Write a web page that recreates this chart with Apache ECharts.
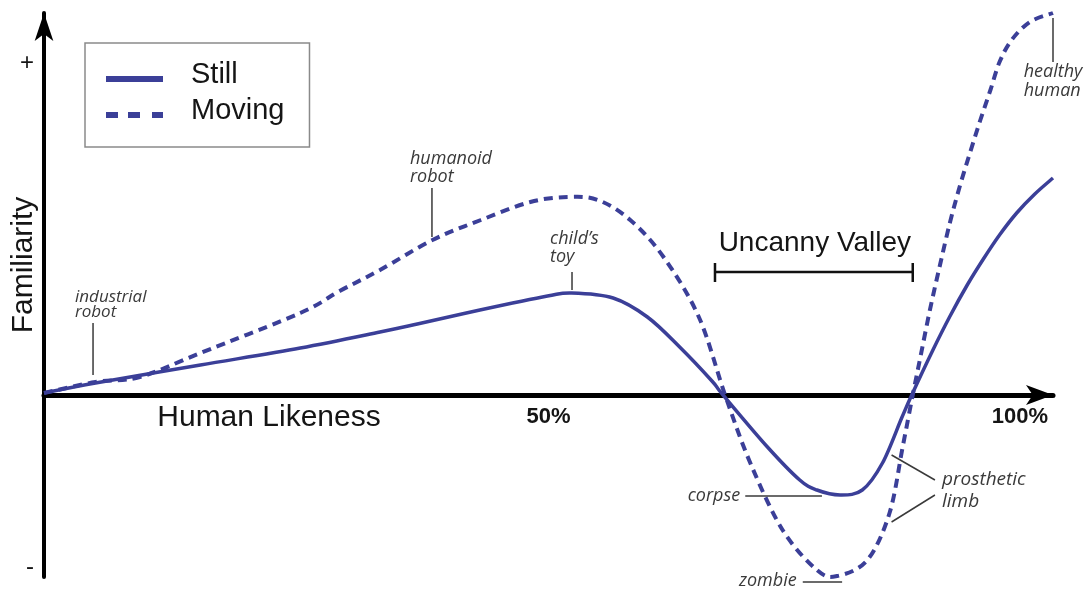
<!DOCTYPE html>
<html>
<head>
<meta charset="utf-8">
<script src="https://cdn.jsdelivr.net/npm/echarts@6/dist/echarts.min.js"></script>
<style>
html,body{margin:0;padding:0;background:#ffffff;}
#chart{width:1090px;height:592px;}
</style>
</head>
<body>
<div id="chart"></div>
<script>
// ---- data (x: human likeness %, y: familiarity, arbitrary units) ----
const stillX = [0, 5.1, 15.5, 25.4, 33.3, 37.0, 43.2, 49.9, 52.3, 56.4, 59.8, 63.0, 66.2, 67.3, 71.7, 74.9, 76.6, 78.9, 81.1, 83.1, 85.0, 86.0, 88.1, 89.8, 91.5, 93.1, 94.7, 96.4, 98.2, 100];
const stillY = [2, 12, 30, 47, 63, 71, 85, 99, 102, 97, 78, 48, 14, 0, -52, -85, -95, -100, -95, -68, -23, 0, 45, 79, 110, 136, 160, 182, 201, 217];
const movingX = [0, 5.1, 9.5, 15.5, 25.4, 29.3, 33.3, 38.5, 43.3, 48.2, 51.9, 54.9, 58.1, 61.4, 64.9, 67.5, 70.0, 73.2, 76.6, 78.6, 81.6, 83.8, 85.1, 86.1, 86.9, 87.8, 88.8, 89.8, 90.8, 91.8, 92.8, 93.8, 94.7, 95.9, 97.7, 100];
const movingY = [2, 13, 18, 42, 82, 104, 125, 155, 175, 193, 198, 195, 175, 138, 78, 0, -68, -135, -175, -181, -165, -118, -52, 0, 40, 85, 130, 173, 210, 243, 275, 305, 333, 355, 373, 382];
const seriesNames = ['Still', 'Moving'];
const xTickValues = [50, 100];
const xTickLabels = ['50%', '100%'];
const yTickValues = [332, -172];
const yTickLabels = ['+', '-'];

const CURVE = '#3b3f98';
const INK = '#151515';
const NOTE = '#3a3a3a';

const zip = (xs, ys) => xs.map((x, i) => [x, ys[i]]);

// smooth curve (Catmull-Rom) through all points of the series, mapped by the axes
function curveRenderer(count, width, dash) {
  return function (params, api) {
    if (params.dataIndex !== 0) return null;
    const pts = [];
    for (let i = 0; i < count; i++) pts.push(api.coord([api.value(0, i), api.value(1, i)]));
    let d = 'M' + pts[0][0] + ',' + pts[0][1];
    for (let i = 0; i < pts.length - 1; i++) {
      const p0 = pts[Math.max(i - 1, 0)], p1 = pts[i], p2 = pts[i + 1], p3 = pts[Math.min(i + 2, pts.length - 1)];
      const c1x = p1[0] + (p2[0] - p0[0]) / 6, c1y = p1[1] + (p2[1] - p0[1]) / 6;
      const c2x = p2[0] - (p3[0] - p1[0]) / 6, c2y = p2[1] - (p3[1] - p1[1]) / 6;
      d += 'C' + c1x + ',' + c1y + ',' + c2x + ',' + c2y + ',' + p2[0] + ',' + p2[1];
    }
    return {type: 'path', shape: {pathData: d}, style: {stroke: CURVE, lineWidth: width, fill: 'none', lineDash: dash || null, lineCap: 'butt', lineJoin: 'round'}};
  };
}

const chart = echarts.init(document.getElementById('chart'), null, {renderer: 'canvas'});

chart.setOption({
  animation: false,
  backgroundColor: '#ffffff',
  grid: {left: 44, right: 37, top: 13, bottom: 15, containLabel: false, outerBoundsMode: 'none'},
  legend: {
    orient: 'vertical',
    left: 85, top: 43,
    padding: [17, 25, 21, 21],
    borderColor: '#8a8a8a', borderWidth: 1.5, borderRadius: 0,
    backgroundColor: '#ffffff',
    itemWidth: 57, itemHeight: 14, itemGap: 6,
    selectedMode: false,
    textStyle: {fontFamily: 'Liberation Sans', fontSize: 29, color: INK, lineHeight: 30, padding: [0, 0, 0, 23]},
    data: [
      {name: seriesNames[0], icon: 'path://M0,0L57,0Z M0,8H57V14H0Z'},
      {name: seriesNames[1], icon: 'path://M0,0L57,0Z M0,8H12V14H0Z M22,8H34V14H22Z M46,8H57V14H46Z'}
    ]
  },
  xAxis: {
    type: 'value', min: 0, max: 100,
    splitLine: {show: false},
    axisTick: {show: false},
    axisLabel: {show: false},
    axisLine: {onZero: true, lineStyle: {color: '#000', width: 5}, symbol: ['none', 'arrow'], symbolSize: [15, 27], symbolOffset: [0, 0]}
  },
  yAxis: {
    type: 'value', min: -182, max: 382,
    splitLine: {show: false},
    axisTick: {show: false},
    axisLine: {onZero: true, lineStyle: {color: '#000', width: 4}, symbol: ['none', 'arrow'], symbolSize: [14, 28], symbolOffset: [0, 0]},
    axisLabel: {
      customValues: yTickValues,
      formatter: v => yTickLabels[yTickValues.indexOf(v)],
      fontFamily: 'Liberation Sans', fontSize: 24, color: INK, margin: 10
    }
  },
  series: [
    {
      name: seriesNames[0], type: 'custom', data: zip(stillX, stillY),
      encode: {x: 0, y: 1}, clip: false, z: 5, silent: true,
      itemStyle: {color: CURVE},
      renderItem: curveRenderer(stillX.length, 3.5, null)
    },
    {
      name: seriesNames[1], type: 'custom', data: zip(movingX, movingY),
      encode: {x: 0, y: 1}, clip: false, z: 4, silent: true,
      itemStyle: {color: CURVE},
      renderItem: curveRenderer(movingX.length, 4, [9, 6])
    }
  ]
});

// ---- annotations, anchored in data coordinates ----
const P = (x, y) => chart.convertToPixel({gridIndex: 0}, [x, y]);
const seg = (a, b, w, c) => {
  const p1 = P(a[0], a[1]), p2 = P(b[0], b[1]);
  return {type: 'line', silent: true, z: 10, shape: {x1: p1[0], y1: p1[1], x2: p2[0], y2: p2[1]}, style: {stroke: c || NOTE, lineWidth: w || 1.5}};
};
const note = (txt, x, y, align, lh, size) => {
  const p = P(x, y);
  return {type: 'text', silent: true, z: 10, x: p[0], y: p[1], style: {
    text: txt, x: 0, y: 0, align: align, verticalAlign: 'middle', lineHeight: lh,
    fontFamily: 'Open Sans', fontStyle: 'italic', fontSize: size || 18, fill: NOTE}};
};

const g = [];
g.push(note('industrial\nrobot', 3.07, 90.5, 'left', 15, 17));
g.push(seg([4.86, 72], [4.86, 20]));
g.push(note('humanoid\nrobot', 36.27, 227, 'left', 18));
g.push(seg([38.45, 207], [38.45, 158]));
g.push(note('child\u2019s\ntoy', 50.15, 147, 'left', 18));
g.push(seg([52.33, 123], [52.33, 105]));
g.push(note('healthy\nhuman', 97.1, 313.5, 'left', 19));
g.push(seg([100, 377], [100, 333]));
g.push(note('corpse', 69.0, -101, 'right', 18));
g.push(seg([69.5, -101], [77.1, -101]));
g.push(note('zombie', 74.6, -186, 'right', 18));
g.push(seg([75.2, -187], [79.1, -187]));
g.push(note('prosthetic\nlimb', 89.0, -96, 'left', 22, 19));
g.push(seg([84.0, -60], [88.3, -85]));
g.push(seg([88.3, -100], [84.0, -127]));
// Uncanny valley bracket
g.push(seg([66.5, 123], [86.1, 123], 2.5, '#111'));
g.push(seg([66.5, 132], [66.5, 113], 2.5, '#111'));
g.push(seg([86.1, 132], [86.1, 113], 2.5, '#111'));
(function () {
  const p = P(76.4, 152);
  g.push({type: 'text', silent: true, z: 10, x: p[0], y: p[1], style: {
    text: 'Uncanny Valley', x: 0, y: 0, align: 'center', verticalAlign: 'middle',
    fontFamily: 'Liberation Sans', fontSize: 28, fill: INK}});
})();
// x tick labels placed below the zero line
xTickValues.forEach((v, i) => {
  const p = P(v, 0);
  const last = i === xTickValues.length - 1;
  g.push({type: 'text', silent: true, z: 10, x: last ? p[0] - 5 : p[0], y: p[1] + 22, style: {
    text: xTickLabels[i], x: 0, y: 0, align: last ? 'right' : 'center', verticalAlign: 'middle',
    fontFamily: 'Liberation Sans', fontWeight: 'bold', fontSize: 22, fill: INK}});
});
// axis titles
g.push({type: 'text', silent: true, z: 10, x: 269, y: 418, style: {
  text: 'Human Likeness', x: 0, y: 0, align: 'center', verticalAlign: 'middle',
  fontFamily: 'Liberation Sans', fontSize: 30, fill: INK}});
g.push({type: 'text', silent: true, z: 10, x: 23.5, y: 265, rotation: Math.PI / 2, style: {
  text: 'Familiarity', x: 0, y: 0, align: 'center', verticalAlign: 'middle',
  fontFamily: 'Liberation Sans', fontSize: 30, fill: INK}});

chart.setOption({graphic: g});
</script>
</body>
</html>
